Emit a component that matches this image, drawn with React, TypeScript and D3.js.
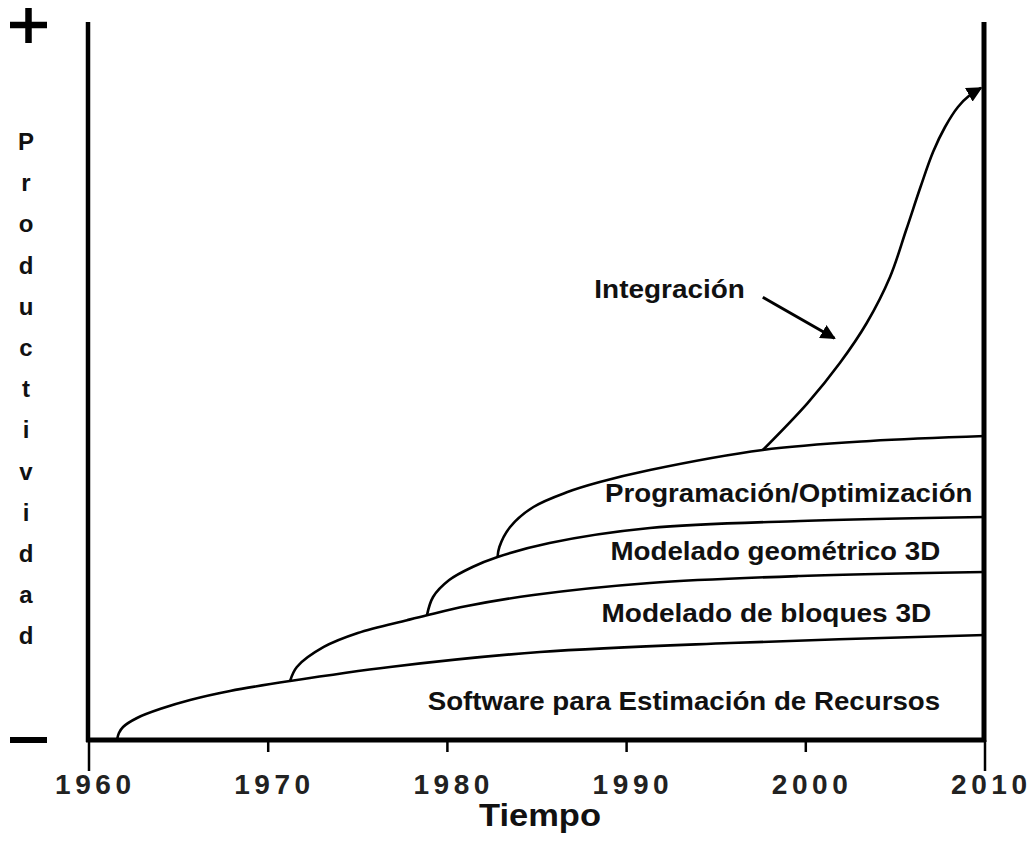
import React from "react";
import * as d3 from "d3";

const tickYears = [1960, 1970, 1980, 1990, 2000, 2010];
const yLetters = "Productividad".split("");

const software: [number, number][] = [
  [1961.56, 0], [1961.67, 0.97], [1961.9, 1.81], [1962.68, 3.06], [1964.13, 4.44],
  [1965.64, 5.56], [1967.87, 6.81], [1971.22, 8.19], [1976.8, 10.14], [1985.17, 12.22],
  [1995.77, 13.47], [2010, 14.58],
];
const bloques: [number, number][] = [
  [1971.22, 8.19], [1971.6, 10.14], [1973.1, 12.92], [1975.0, 14.86], [1977.75, 16.64],
  [1978.86, 17.33], [1981.09, 18.61], [1984.8, 20.14], [1991.3, 21.81], [1999.7, 22.78], [2010, 23.33],
];
const geometrico: [number, number][] = [
  [1978.86, 17.33], [1979.2, 19.86], [1980.1, 22.22], [1981.4, 24.03], [1982.8, 25.42],
  [1985.7, 27.36], [1991.3, 29.44], [1999.7, 30.42], [2010, 30.97],
];
const programacion: [number, number][] = [
  [1982.8, 25.42], [1982.9, 26.81], [1983.5, 29.58], [1984.8, 32.36], [1986.7, 34.44],
  [1988.5, 35.83], [1991.3, 37.5], [1997.6, 40.28], [2003.6, 41.53], [2010, 42.22],
];
const integracion: [number, number][] = [
  [1997.6, 40.28], [2000.1, 46.8], [2001.9, 52.36], [2003.4, 57.92], [2004.7, 64.31],
  [2005.6, 70.83], [2006.4, 76.8], [2007.1, 81.67], [2007.77, 85.14], [2008.49, 87.92],
  [2009.16, 89.58], [2009.78, 90.56],
];

const labelTexts = [
  "Integración",
  "Programación/Optimización",
  "Modelado geométrico 3D",
  "Modelado de bloques 3D",
  "Software para Estimación de Recursos",
];
const labelStartYears = [1988.2, 1988.8, 1989.1, 1988.6, 1978.9];
const labelEndYears = [1996.6, 2009.3, 2007.5, 2007.0, 2007.5];
const labelValues = [61.4, 33.06, 25.0, 16.39, 4.17];

const pointerFrom: [number, number] = [1997.6, 61.5];
const pointerTo: [number, number] = [2001.6, 55.8];

export default function App() {
  const W = 1035, H = 856;
  const x = d3.scaleLinear().domain([1960, 2010]).range([89, 985]);
  const y = d3.scaleLinear().domain([0, 100]).range([740, 20]);
  const line = d3
    .line<[number, number]>()
    .x((d) => x(d[0]))
    .y((d) => y(d[1]))
    .curve(d3.curveCatmullRom.alpha(0.5));

  const curves = [software, bloques, geometrico, programacion];
  const font = "'Liberation Sans', Arial, sans-serif";
  const ink = "#111";

  return (
    <svg
      width={W}
      height={H}
      style={{ position: "absolute", left: 0, top: 0, background: "#fff" }}
    >
      <defs>
        <marker id="ah" viewBox="0 0 10 10" refX="9" refY="5" markerWidth="6" markerHeight="6" orient="auto" markerUnits="strokeWidth">
          <path d="M0,0 L10,5 L0,10 z" fill="#000" />
        </marker>
        <marker id="ah2" viewBox="0 0 10 10" refX="9" refY="5" markerWidth="5" markerHeight="5" orient="auto" markerUnits="strokeWidth">
          <path d="M0,0 L10,5 L0,10 z" fill="#000" />
        </marker>
      </defs>
      <rect x={0} y={0} width={W} height={H} fill="#fff" />

      {/* plus and minus */}
      <line x1={10} x2={47} y1={25} y2={25} stroke="#000" strokeWidth={6.5} />
      <line x1={28.5} x2={28.5} y1={8} y2={43} stroke="#000" strokeWidth={6.5} />
      <line x1={10} x2={47} y1={y(0)} y2={y(0)} stroke="#000" strokeWidth={6} />

      {/* axes frame */}
      <line x1={x(1960) - 1} x2={x(1960) - 1} y1={22} y2={742} stroke="#000" strokeWidth={4.5} />
      <line x1={x(2010) - 1} x2={x(2010) - 1} y1={22} y2={742} stroke="#000" strokeWidth={5} />
      <line x1={x(1960) - 3} x2={x(2010) + 1} y1={y(0)} y2={y(0)} stroke="#000" strokeWidth={5} />

      {tickYears.map((t, i) => {
        const end = i === 0 || i === tickYears.length - 1 ? 771 : 752;
        return (
          <g key={t}>
            <line x1={x(t)} x2={x(t)} y1={y(0)} y2={end} stroke="#000" strokeWidth={2.5} />
            <text
              x={x(t) + 4}
              y={794}
              textAnchor="middle"
              fontFamily={font}
              fontWeight="bold"
              fontSize={28}
              fill="#222"
              textLength={76}
              lengthAdjust="spacing"
            >
              {t}
            </text>
          </g>
        );
      })}

      <text x={540} y={826} textAnchor="middle" fontFamily={font} fontWeight="bold" fontSize={31} fill={ink} textLength={122} lengthAdjust="spacingAndGlyphs">
        Tiempo
      </text>

      {yLetters.map((c, i) => (
        <text key={i} x={26} y={150 + i * 41.2} textAnchor="middle" fontFamily={font} fontWeight="bold" fontSize={24} fill={ink}>
          {c}
        </text>
      ))}

      {curves.map((c, i) => (
        <path key={i} d={line(c) || ""} fill="none" stroke="#000" strokeWidth={2.6} />
      ))}
      <path d={line(integracion) || ""} fill="none" stroke="#000" strokeWidth={2.6} markerEnd="url(#ah)" />

      <line
        x1={x(pointerFrom[0])}
        y1={y(pointerFrom[1])}
        x2={x(pointerTo[0])}
        y2={y(pointerTo[1])}
        stroke="#000"
        strokeWidth={3}
        markerEnd="url(#ah2)"
      />

      {labelTexts.map((t, i) => (
        <text
          key={t}
          x={x(labelStartYears[i])}
          y={y(labelValues[i])}
          fontFamily={font}
          fontWeight="bold"
          fontSize={25}
          fill={ink}
          textLength={x(labelEndYears[i]) - x(labelStartYears[i])}
          lengthAdjust="spacingAndGlyphs"
        >
          {t}
        </text>
      ))}
    </svg>
  );
}
